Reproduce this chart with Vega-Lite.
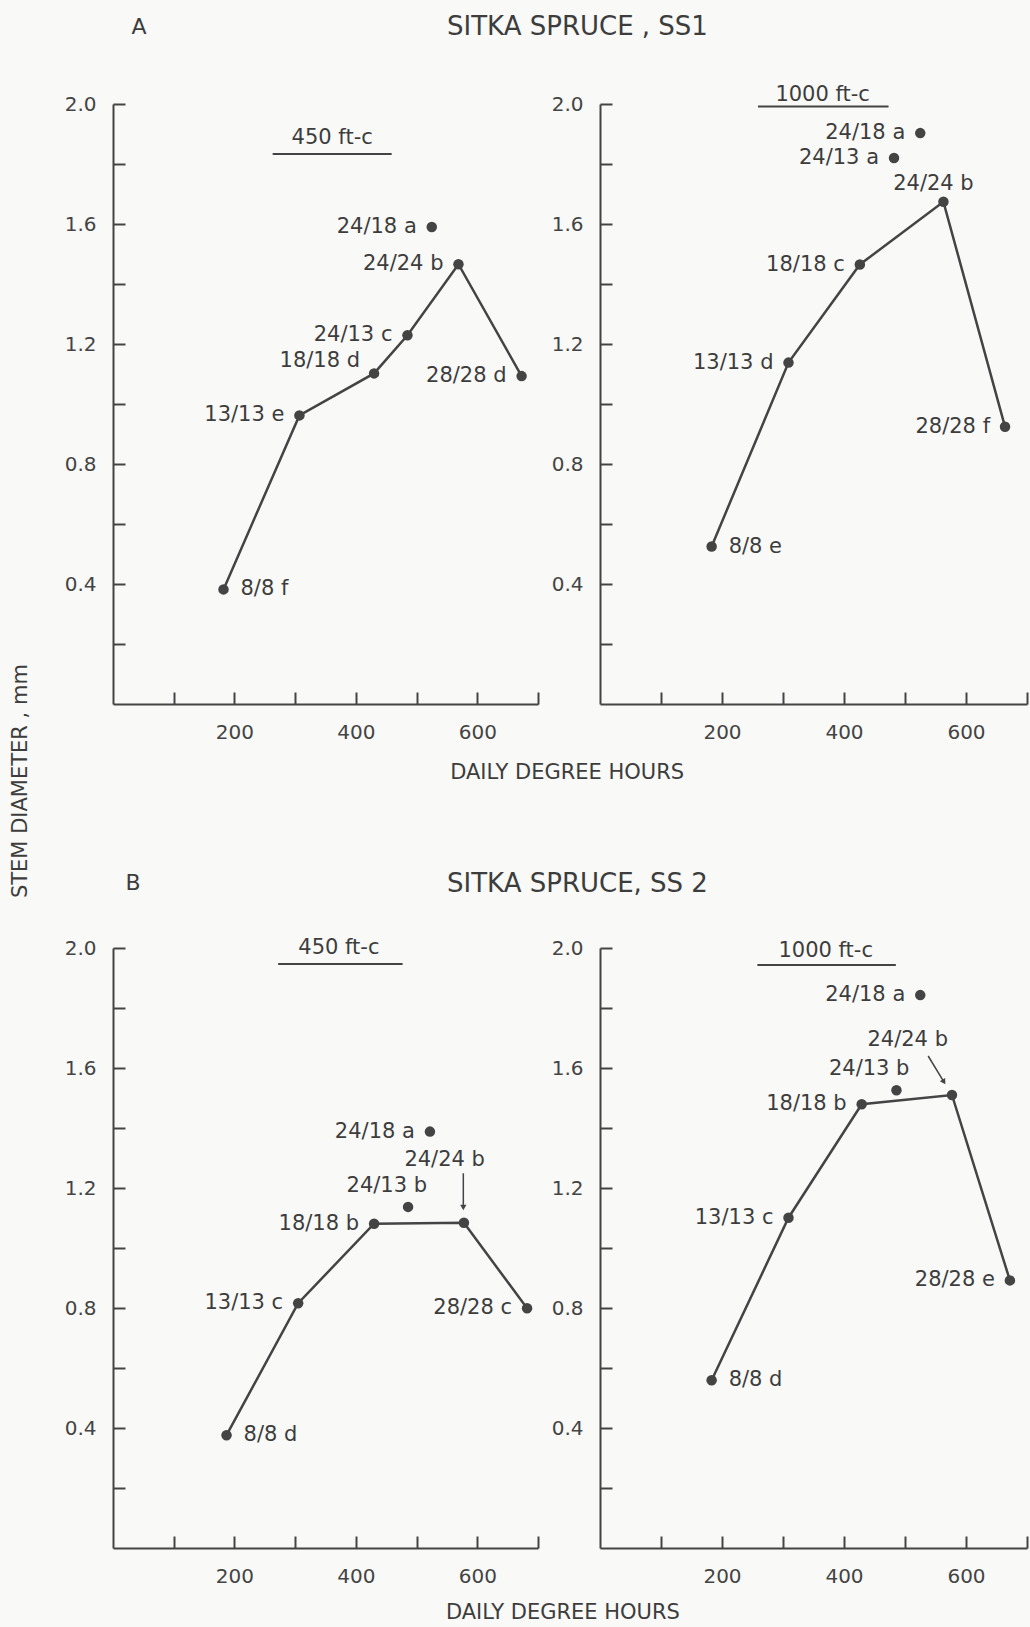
{
  "$schema": "https://vega.github.io/schema/vega-lite/v6.json",
  "background": "#f9f9f7",
  "padding": {"left": 10, "top": 13, "right": 2, "bottom": 5},
  "config": {
    "view": {"stroke": null},
    "axis": {"domainColor": "#444", "domainWidth": 2, "tickColor": "#444", "tickWidth": 2, "tickSize": -12, "labelFont": "DejaVu Sans", "labelFontSize": 20, "labelColor": "#444", "grid": false, "labelOverlap": false, "labelFlush": false},
    "text": {"font": "DejaVu Sans", "color": "#3d3d3d"}
  },
  "datasets": {
    "pts": [
      {"panel": "SS1_450", "x": 182, "y": 0.382, "label": "8/8 f", "pos": "right", "line": true},
      {"panel": "SS1_450", "x": 307, "y": 0.962, "label": "13/13 e", "pos": "left", "line": true},
      {"panel": "SS1_450", "x": 430, "y": 1.102, "label": "18/18 d", "pos": "upleft", "line": true},
      {"panel": "SS1_450", "x": 485, "y": 1.229, "label": "24/13 c", "pos": "left", "line": true},
      {"panel": "SS1_450", "x": 569, "y": 1.466, "label": "24/24 b", "pos": "left", "line": true},
      {"panel": "SS1_450", "x": 673, "y": 1.093, "label": "28/28 d", "pos": "left", "line": true},
      {"panel": "SS1_450", "x": 525, "y": 1.59, "label": "24/18 a", "pos": "left", "line": false},
      {"panel": "SS1_1000", "x": 183, "y": 0.525, "label": "8/8 e", "pos": "right", "line": true},
      {"panel": "SS1_1000", "x": 309, "y": 1.138, "label": "13/13 d", "pos": "left", "line": true},
      {"panel": "SS1_1000", "x": 426, "y": 1.465, "label": "18/18 c", "pos": "left", "line": true},
      {"panel": "SS1_1000", "x": 563, "y": 1.674, "label": "24/24 b", "pos": "above", "line": true},
      {"panel": "SS1_1000", "x": 664, "y": 0.924, "label": "28/28 f", "pos": "left", "line": true},
      {"panel": "SS1_1000", "x": 482, "y": 1.82, "label": "24/13 a", "pos": "left", "line": false},
      {"panel": "SS1_1000", "x": 525, "y": 1.903, "label": "24/18 a", "pos": "left", "line": false},
      {"panel": "SS2_450", "x": 187, "y": 0.376, "label": "8/8 d", "pos": "right", "line": true},
      {"panel": "SS2_450", "x": 305, "y": 0.816, "label": "13/13 c", "pos": "left", "line": true},
      {"panel": "SS2_450", "x": 430, "y": 1.081, "label": "18/18 b", "pos": "left", "line": true},
      {"panel": "SS2_450", "x": 578, "y": 1.084, "label": "24/24 b", "pos": "arrow", "line": true},
      {"panel": "SS2_450", "x": 682, "y": 0.799, "label": "28/28 c", "pos": "left", "line": true},
      {"panel": "SS2_450", "x": 486, "y": 1.137, "label": "24/13 b", "pos": "aboveleft", "line": false},
      {"panel": "SS2_450", "x": 522, "y": 1.388, "label": "24/18 a", "pos": "left", "line": false},
      {"panel": "SS2_1000", "x": 183, "y": 0.559, "label": "8/8 d", "pos": "right", "line": true},
      {"panel": "SS2_1000", "x": 309, "y": 1.101, "label": "13/13 c", "pos": "left", "line": true},
      {"panel": "SS2_1000", "x": 429, "y": 1.479, "label": "18/18 b", "pos": "left", "line": true},
      {"panel": "SS2_1000", "x": 577, "y": 1.51, "label": "24/24 b", "pos": "arrow", "line": true},
      {"panel": "SS2_1000", "x": 672, "y": 0.892, "label": "28/28 e", "pos": "left", "line": true},
      {"panel": "SS2_1000", "x": 486, "y": 1.526, "label": "24/13 b", "pos": "aboveleft", "line": false},
      {"panel": "SS2_1000", "x": 525, "y": 1.843, "label": "24/18 a", "pos": "left", "line": false}
    ]
  },
  "columns": 2,
  "bounds": "flush",
  "spacing": {"row": 244, "column": 62},
  "concat": [
    {
      "width": 425, "height": 600,
      "layer": [
        {
          "data": {"name": "pts"},
          "transform": [{"filter": "datum.panel == 'SS1_450'"}],
          "encoding": {
            "x": {"field": "x", "type": "quantitative", "scale": {"domain": [0, 700], "nice": false}, "axis": {"values": [100, 200, 300, 400, 500, 600, 700], "labelExpr": "datum.value % 200 == 0 ? datum.label : ''", "labelPadding": 30, "title": null}},
            "y": {"field": "y", "type": "quantitative", "scale": {"domain": [0, 2], "nice": false}, "axis": {"values": [0.2, 0.4, 0.6, 0.8, 1.0, 1.2, 1.4, 1.6, 1.8, 2.0], "labelExpr": "round(datum.value * 10) % 4 == 0 ? format(datum.value, '.1f') : ''", "labelPadding": 29, "title": null}}
          },
          "layer": [
            {"transform": [{"filter": "datum.line"}], "mark": {"type": "line", "color": "#444", "strokeWidth": 2.5}},
            {"mark": {"type": "circle", "size": 110, "color": "#444", "opacity": 1}},
            {"transform": [{"filter": "datum.pos == 'left'"}], "mark": {"type": "text", "align": "right", "baseline": "middle", "dx": -15, "fontSize": 21}, "encoding": {"text": {"field": "label"}}},
            {"transform": [{"filter": "datum.pos == 'upleft'"}], "mark": {"type": "text", "align": "right", "baseline": "middle", "dx": -14, "dy": -12, "fontSize": 21}, "encoding": {"text": {"field": "label"}}},
            {"transform": [{"filter": "datum.pos == 'right'"}], "mark": {"type": "text", "align": "left", "baseline": "middle", "dx": 17, "fontSize": 21}, "encoding": {"text": {"field": "label"}}}
          ]
        },
        {"data": {"values": [{}]}, "mark": {"type": "text", "fontSize": 21, "align": "center", "baseline": "middle"}, "encoding": {"x": {"datum": 361, "type": "quantitative"}, "y": {"datum": 1.887, "type": "quantitative"}, "text": {"value": "450 ft-c"}}},
        {"data": {"values": [{}]}, "mark": {"type": "rule", "color": "#444", "strokeWidth": 2}, "encoding": {"x": {"datum": 263, "type": "quantitative"}, "x2": {"datum": 459}, "y": {"datum": 1.833, "type": "quantitative"}}},
        {"data": {"values": [{}]}, "mark": {"type": "text", "fontSize": 22, "align": "center", "baseline": "middle"}, "encoding": {"x": {"datum": 43, "type": "quantitative"}, "y": {"datum": 2.257, "type": "quantitative"}, "text": {"value": "A"}}},
        {"data": {"values": [{}]}, "mark": {"type": "text", "fontSize": 26, "align": "center", "baseline": "middle"}, "encoding": {"x": {"datum": 765, "type": "quantitative"}, "y": {"datum": 2.257, "type": "quantitative"}, "text": {"value": "SITKA SPRUCE , SS1"}}},
        {"data": {"values": [{}]}, "mark": {"type": "text", "fontSize": 21, "align": "center", "baseline": "middle"}, "encoding": {"x": {"datum": 748, "type": "quantitative"}, "y": {"datum": -0.23, "type": "quantitative"}, "text": {"value": "DAILY DEGREE HOURS"}}},
        {"data": {"values": [{}]}, "mark": {"type": "text", "fontSize": 21, "align": "center", "baseline": "middle", "angle": 270}, "encoding": {"x": {"datum": -151.5, "type": "quantitative"}, "y": {"datum": -0.257, "type": "quantitative"}, "text": {"value": "STEM DIAMETER , mm"}}}
      ]
    },
    {
      "width": 427, "height": 600,
      "layer": [
        {
          "data": {"name": "pts"},
          "transform": [{"filter": "datum.panel == 'SS1_1000'"}],
          "encoding": {
            "x": {"field": "x", "type": "quantitative", "scale": {"domain": [0, 700], "nice": false}, "axis": {"values": [100, 200, 300, 400, 500, 600, 700], "labelExpr": "datum.value % 200 == 0 ? datum.label : ''", "labelPadding": 30, "title": null}},
            "y": {"field": "y", "type": "quantitative", "scale": {"domain": [0, 2], "nice": false}, "axis": {"values": [0.2, 0.4, 0.6, 0.8, 1.0, 1.2, 1.4, 1.6, 1.8, 2.0], "labelExpr": "round(datum.value * 10) % 4 == 0 ? format(datum.value, '.1f') : ''", "labelPadding": 29, "title": null}}
          },
          "layer": [
            {"transform": [{"filter": "datum.line"}], "mark": {"type": "line", "color": "#444", "strokeWidth": 2.5}},
            {"mark": {"type": "circle", "size": 110, "color": "#444", "opacity": 1}},
            {"transform": [{"filter": "datum.pos == 'left'"}], "mark": {"type": "text", "align": "right", "baseline": "middle", "dx": -15, "fontSize": 21}, "encoding": {"text": {"field": "label"}}},
            {"transform": [{"filter": "datum.pos == 'above'"}], "mark": {"type": "text", "align": "center", "baseline": "middle", "dx": -10, "dy": -18, "fontSize": 21}, "encoding": {"text": {"field": "label"}}},
            {"transform": [{"filter": "datum.pos == 'right'"}], "mark": {"type": "text", "align": "left", "baseline": "middle", "dx": 17, "fontSize": 21}, "encoding": {"text": {"field": "label"}}}
          ]
        },
        {"data": {"values": [{}]}, "mark": {"type": "text", "fontSize": 21, "align": "center", "baseline": "middle"}, "encoding": {"x": {"datum": 365, "type": "quantitative"}, "y": {"datum": 2.031, "type": "quantitative"}, "text": {"value": "1000 ft-c"}}},
        {"data": {"values": [{}]}, "mark": {"type": "rule", "color": "#444", "strokeWidth": 2}, "encoding": {"x": {"datum": 259, "type": "quantitative"}, "x2": {"datum": 473}, "y": {"datum": 1.992, "type": "quantitative"}}}
      ]
    },
    {
      "width": 425, "height": 600,
      "layer": [
        {
          "data": {"name": "pts"},
          "transform": [{"filter": "datum.panel == 'SS2_450'"}],
          "encoding": {
            "x": {"field": "x", "type": "quantitative", "scale": {"domain": [0, 700], "nice": false}, "axis": {"values": [100, 200, 300, 400, 500, 600, 700], "labelExpr": "datum.value % 200 == 0 ? datum.label : ''", "labelPadding": 30, "title": null}},
            "y": {"field": "y", "type": "quantitative", "scale": {"domain": [0, 2], "nice": false}, "axis": {"values": [0.2, 0.4, 0.6, 0.8, 1.0, 1.2, 1.4, 1.6, 1.8, 2.0], "labelExpr": "round(datum.value * 10) % 4 == 0 ? format(datum.value, '.1f') : ''", "labelPadding": 29, "title": null}}
          },
          "layer": [
            {"transform": [{"filter": "datum.line"}], "mark": {"type": "line", "color": "#444", "strokeWidth": 2.5}},
            {"mark": {"type": "circle", "size": 110, "color": "#444", "opacity": 1}},
            {"transform": [{"filter": "datum.pos == 'left'"}], "mark": {"type": "text", "align": "right", "baseline": "middle", "dx": -15, "fontSize": 21}, "encoding": {"text": {"field": "label"}}},
            {"transform": [{"filter": "datum.pos == 'aboveleft'"}], "mark": {"type": "text", "align": "right", "baseline": "middle", "dx": 19, "dy": -21, "fontSize": 21}, "encoding": {"text": {"field": "label"}}},
            {"transform": [{"filter": "datum.pos == 'arrow'"}], "mark": {"type": "text", "align": "right", "baseline": "middle", "dx": 21, "dy": -63, "fontSize": 21}, "encoding": {"text": {"field": "label"}}},
            {"transform": [{"filter": "datum.pos == 'right'"}], "mark": {"type": "text", "align": "left", "baseline": "middle", "dx": 17, "fontSize": 21}, "encoding": {"text": {"field": "label"}}}
          ]
        },
        {"data": {"values": [{}]}, "mark": {"type": "rule", "color": "#444", "strokeWidth": 1.5}, "encoding": {"x": {"datum": 577, "type": "quantitative"}, "y": {"datum": 1.249, "type": "quantitative"}, "y2": {"datum": 1.14}}},
        {"data": {"values": [{}]}, "mark": {"type": "point", "shape": "triangle", "filled": true, "size": 40, "angle": 180, "color": "#444", "opacity": 1}, "encoding": {"x": {"datum": 577, "type": "quantitative"}, "y": {"datum": 1.138, "type": "quantitative"}}},
        {"data": {"values": [{}]}, "mark": {"type": "text", "fontSize": 21, "align": "center", "baseline": "middle"}, "encoding": {"x": {"datum": 372, "type": "quantitative"}, "y": {"datum": 2.001, "type": "quantitative"}, "text": {"value": "450 ft-c"}}},
        {"data": {"values": [{}]}, "mark": {"type": "rule", "color": "#444", "strokeWidth": 2}, "encoding": {"x": {"datum": 272, "type": "quantitative"}, "x2": {"datum": 477}, "y": {"datum": 1.947, "type": "quantitative"}}},
        {"data": {"values": [{}]}, "mark": {"type": "text", "fontSize": 22, "align": "center", "baseline": "middle"}, "encoding": {"x": {"datum": 33, "type": "quantitative"}, "y": {"datum": 2.217, "type": "quantitative"}, "text": {"value": "B"}}},
        {"data": {"values": [{}]}, "mark": {"type": "text", "fontSize": 26, "align": "center", "baseline": "middle"}, "encoding": {"x": {"datum": 765, "type": "quantitative"}, "y": {"datum": 2.213, "type": "quantitative"}, "text": {"value": "SITKA SPRUCE, SS 2"}}},
        {"data": {"values": [{}]}, "mark": {"type": "text", "fontSize": 21, "align": "center", "baseline": "middle"}, "encoding": {"x": {"datum": 741, "type": "quantitative"}, "y": {"datum": -0.217, "type": "quantitative"}, "text": {"value": "DAILY DEGREE HOURS"}}}
      ]
    },
    {
      "width": 427, "height": 600,
      "layer": [
        {
          "data": {"name": "pts"},
          "transform": [{"filter": "datum.panel == 'SS2_1000'"}],
          "encoding": {
            "x": {"field": "x", "type": "quantitative", "scale": {"domain": [0, 700], "nice": false}, "axis": {"values": [100, 200, 300, 400, 500, 600, 700], "labelExpr": "datum.value % 200 == 0 ? datum.label : ''", "labelPadding": 30, "title": null}},
            "y": {"field": "y", "type": "quantitative", "scale": {"domain": [0, 2], "nice": false}, "axis": {"values": [0.2, 0.4, 0.6, 0.8, 1.0, 1.2, 1.4, 1.6, 1.8, 2.0], "labelExpr": "round(datum.value * 10) % 4 == 0 ? format(datum.value, '.1f') : ''", "labelPadding": 29, "title": null}}
          },
          "layer": [
            {"transform": [{"filter": "datum.line"}], "mark": {"type": "line", "color": "#444", "strokeWidth": 2.5}},
            {"mark": {"type": "circle", "size": 110, "color": "#444", "opacity": 1}},
            {"transform": [{"filter": "datum.pos == 'left'"}], "mark": {"type": "text", "align": "right", "baseline": "middle", "dx": -15, "fontSize": 21}, "encoding": {"text": {"field": "label"}}},
            {"transform": [{"filter": "datum.pos == 'aboveleft'"}], "mark": {"type": "text", "align": "right", "baseline": "middle", "dx": 13, "dy": -21, "fontSize": 21}, "encoding": {"text": {"field": "label"}}},
            {"transform": [{"filter": "datum.pos == 'arrow'"}], "mark": {"type": "text", "align": "right", "baseline": "middle", "dx": -4, "dy": -55, "fontSize": 21}, "encoding": {"text": {"field": "label"}}},
            {"transform": [{"filter": "datum.pos == 'right'"}], "mark": {"type": "text", "align": "left", "baseline": "middle", "dx": 17, "fontSize": 21}, "encoding": {"text": {"field": "label"}}}
          ]
        },
        {"data": {"values": [{}]}, "mark": {"type": "rule", "color": "#444", "strokeWidth": 1.5}, "encoding": {"x": {"datum": 538, "type": "quantitative"}, "y": {"datum": 1.64, "type": "quantitative"}, "x2": {"datum": 563}, "y2": {"datum": 1.556}}},
        {"data": {"values": [{}]}, "mark": {"type": "point", "shape": "triangle", "filled": true, "size": 40, "angle": 149, "color": "#444", "opacity": 1}, "encoding": {"x": {"datum": 563, "type": "quantitative"}, "y": {"datum": 1.556, "type": "quantitative"}}},
        {"data": {"values": [{}]}, "mark": {"type": "text", "fontSize": 21, "align": "center", "baseline": "middle"}, "encoding": {"x": {"datum": 370, "type": "quantitative"}, "y": {"datum": 1.99, "type": "quantitative"}, "text": {"value": "1000 ft-c"}}},
        {"data": {"values": [{}]}, "mark": {"type": "rule", "color": "#444", "strokeWidth": 2}, "encoding": {"x": {"datum": 258, "type": "quantitative"}, "x2": {"datum": 485}, "y": {"datum": 1.943, "type": "quantitative"}}}
      ]
    }
  ]
}
